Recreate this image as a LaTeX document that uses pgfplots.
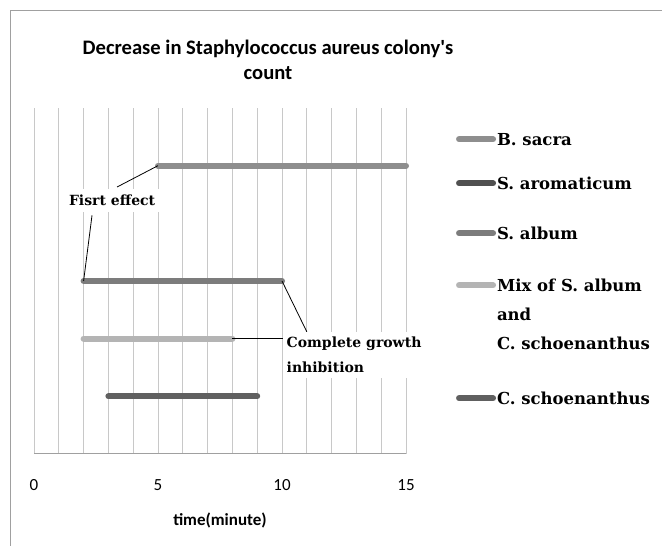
\documentclass[border=0pt]{standalone}
\usepackage{pgfplots}
\pgfplotsset{compat=1.18}
\usepackage{fontspec}
\setmainfont{Carlito}
\newfontfamily\dvs{DejaVu Serif}
\definecolor{cBsacra}{HTML}{8E8E8E}
\definecolor{cSarom}{HTML}{505050}
\definecolor{cSalbum}{HTML}{7C7C7C}
\definecolor{cMix}{HTML}{B4B4B4}
\definecolor{cCsch}{HTML}{606060}
\definecolor{cGrid}{HTML}{C8C8C8}
\definecolor{cBorder}{HTML}{A0A0A0}
\begin{document}
\begin{tikzpicture}[x=1pt,y=1pt]
\useasboundingbox (0,0) rectangle (662,546);
\begin{scope}
\clip (0,0) rectangle (662,546);
\fill[white] (0,0) rectangle (662,546);
\draw[cBorder, line width=1pt] (10,535) -- (700,535);
\draw[cBorder, line width=1pt] (10,535) -- (10,-20);
\end{scope}
\node[font=\bfseries\fontsize{20.6}{25}\selectfont, align=center] at (268,486) {Decrease in Staphylococcus aureus colony\textquotesingle s\\count};
\begin{axis}[
  at={(34pt,92pt)}, anchor=south west,
  width=372pt, height=346pt, scale only axis,
  xmin=0, xmax=15, ymin=0, ymax=6,
  axis x line*=bottom, axis y line=none,
  x axis line style={draw=cBorder, line width=1pt, -},
  xtick={0,5,10,15}, minor x tick num=4,
  xmajorgrids, xminorgrids,
  major grid style={cGrid, line width=0.9pt},
  minor grid style={cGrid, line width=0.9pt},
  major tick length=0pt, minor tick length=0pt,
  /pgf/number format/assume math mode=true,
  xticklabel style={font=\fontsize{17}{20}\selectfont, yshift=-22pt},
  xlabel={time(minute)},
  xlabel style={font=\bfseries\fontsize{17}{20}\selectfont, at={(axis description cs:0.5,-0.191)}, anchor=center},
  clip=false,
  legend style={draw=none, fill=none, at={(1.134,0.968)}, anchor=north west,
    font=\dvs\bfseries\fontsize{16.5}{20}\selectfont, row sep=0pt, column sep=1pt,
    inner sep=0pt, nodes={inner sep=0pt}, cells={anchor=base west}},
  legend image code/.code={\draw[#1, line width=6pt, line cap=round] (0pt,6pt) -- (34pt,6pt);},
]
\addplot[cBsacra, line width=6pt, line cap=round] coordinates {(5,5) (15,5)};
\addlegendentry[text height=26pt, text depth=22pt]{B. sacra}
\addlegendimage{cSarom}
\addlegendentry[text height=22pt, text depth=25pt]{S. aromaticum}
\addplot[cSalbum, line width=6pt, line cap=round] coordinates {(2,3) (10,3)};
\addlegendentry[text height=25pt, text depth=26pt]{S. album}
\addplot[cMix, line width=6pt, line cap=round] coordinates {(2,2) (8,2)};
\addlegendentry[text height=26pt, text depth=15pt]{Mix of S. album}
\addlegendimage{empty legend}
\addlegendentry[text height=14pt, text depth=15pt]{and}
\addlegendimage{empty legend}
\addlegendentry[text height=14pt, text depth=27pt]{C. schoenanthus}
\addplot[cCsch, line width=6pt, line cap=round] coordinates {(3,1) (9,1)};
\addlegendentry[text height=28pt, text depth=10pt]{C. schoenanthus}
% annotations
\draw[black, line width=0.8pt] (axis cs:5,5) -- (axis cs:3.35,4.63);
\draw[black, line width=0.8pt] (axis cs:2,3) -- (axis cs:2.34,4.14);
\draw[black, line width=0.8pt] (axis cs:10,3) -- (axis cs:11.0,2.12);
\draw[black, line width=0.8pt] (axis cs:8,2) -- (axis cs:10.04,2);
\node[fill=white, inner xsep=5pt, inner ysep=6pt, font=\dvs\bfseries\fontsize{14}{25}\selectfont] at (axis cs:3.15,4.40) {Fisrt effect};
\node[fill=white, inner xsep=2pt, inner ysep=5pt, anchor=north west, align=left, font=\dvs\bfseries\fontsize{14}{25}\selectfont] at (axis cs:10.1,2.12) {Complete growth\\inhibition};
\end{axis}
\end{tikzpicture}
\end{document}
